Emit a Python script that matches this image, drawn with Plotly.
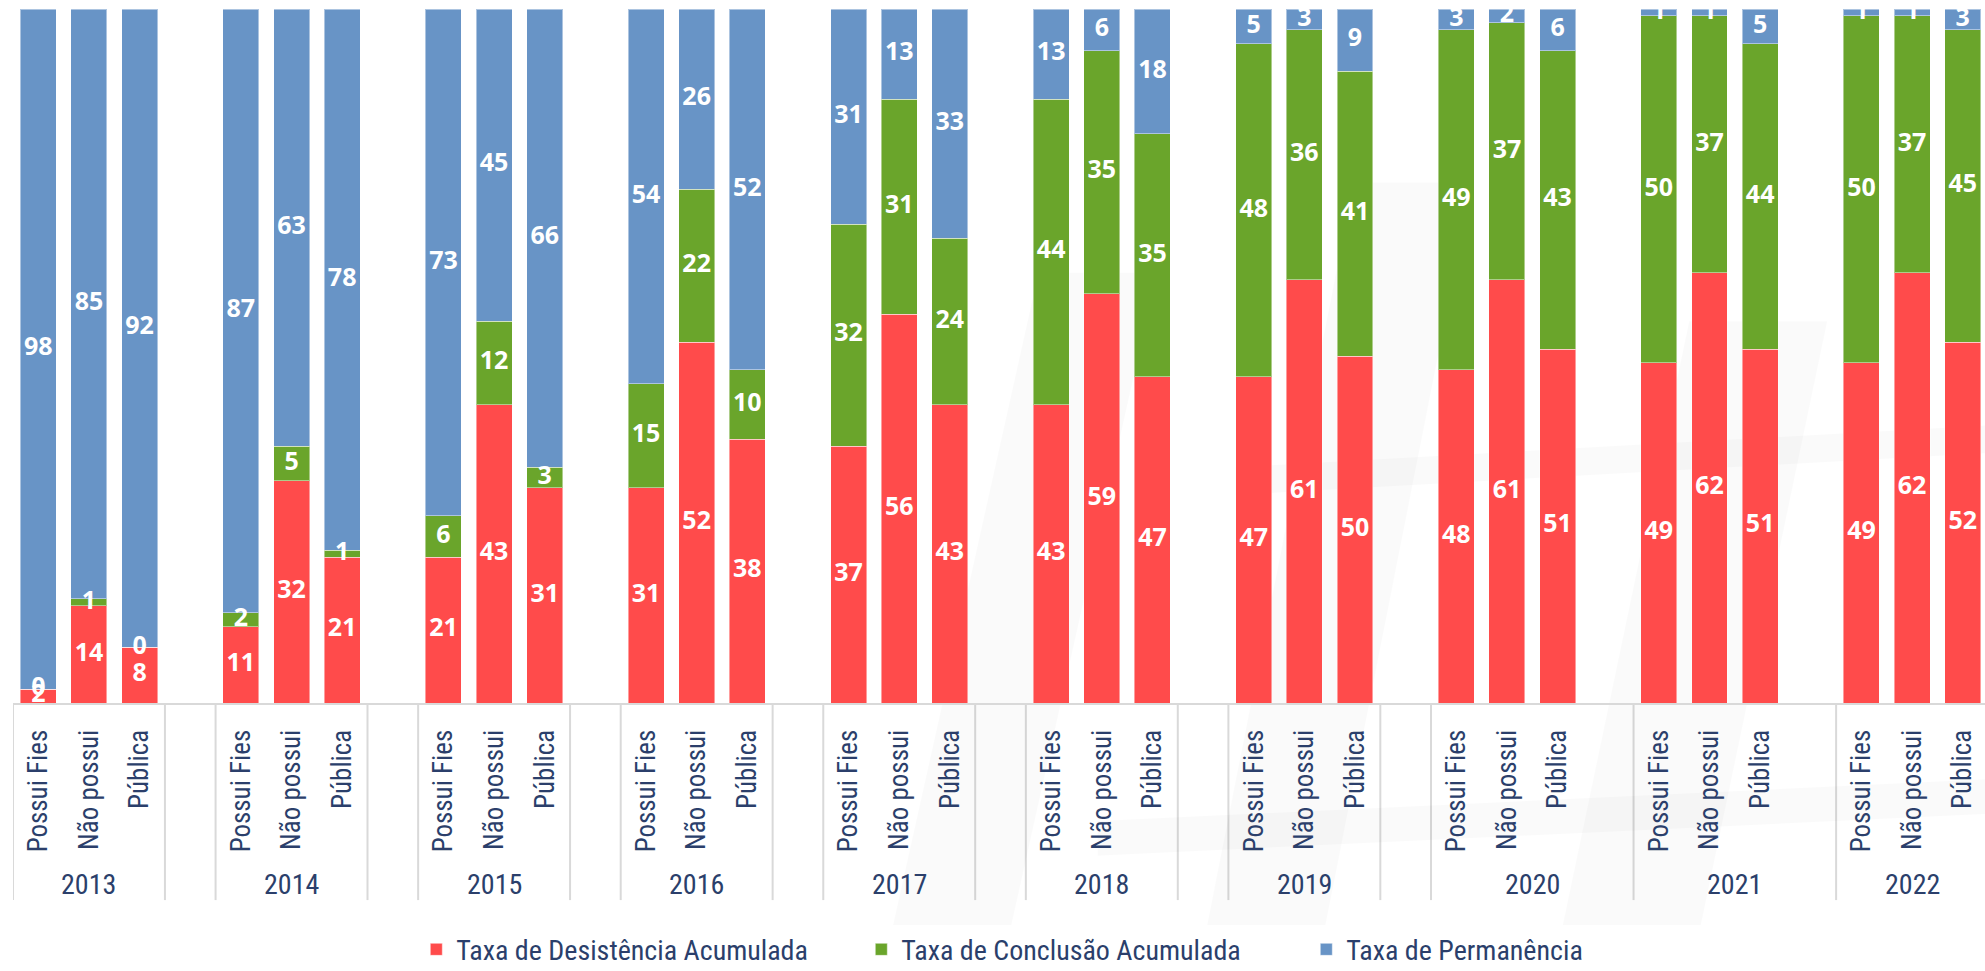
import plotly.graph_objects as go

# Survey years and student groups
years = ["2013", "2014", "2015", "2016", "2017", "2018", "2019", "2020", "2021", "2022"]
categories = ["Possui Fies", "Não possui", "Pública"]

# Rates (%) per year, in the order of `categories`
desistencia = [2, 14, 8, 11, 32, 21, 21, 43, 31, 31, 52, 38, 37, 56, 43,
               43, 59, 47, 47, 61, 50, 48, 61, 51, 49, 62, 51, 49, 62, 52]
conclusao = [0, 1, 0, 2, 5, 1, 6, 12, 3, 15, 22, 10, 32, 31, 24,
             44, 35, 35, 48, 36, 41, 49, 37, 43, 50, 37, 44, 50, 37, 45]
permanencia = [98, 85, 92, 87, 63, 78, 73, 45, 66, 54, 26, 52, 31, 13, 33,
               13, 6, 18, 5, 3, 9, 3, 2, 6, 1, 1, 5, 1, 1, 3]

series = [
    ("Taxa de Desistência Acumulada", desistencia, "#FF4B4B"),
    ("Taxa de Conclusão Acumulada", conclusao, "#6AA52B"),
    ("Taxa de Permanência", permanencia, "#6894C6"),
]

LABEL_FONT = "Liberation Sans Narrow, Arial Narrow, Roboto Condensed, DejaVu Sans Condensed, sans-serif"
TEXT_COLOR = "#2B3F6B"

# Each year takes four slots: three bars followed by an empty slot
n_cat = len(categories)
slot = n_cat + 1
xpos = [slot * yi + ci for yi in range(len(years)) for ci in range(n_cat)]
xlabels = [c for _ in years for c in categories]

fig = go.Figure()
base = [0] * len(xpos)
for name, vals, color in series:
    fig.add_trace(go.Bar(
        x=xpos, y=vals, name=name, width=0.71,
        marker=dict(color=color, line=dict(color="rgba(255,255,255,0.45)", width=1)),
        hoverinfo="skip",
    ))
    mids = [b + v / 2 for b, v in zip(base, vals)]
    fig.add_trace(go.Scatter(
        x=xpos, y=mids, mode="text", text=[str(v) for v in vals],
        textposition="middle center", showlegend=False, hoverinfo="skip",
        textfont=dict(family="Open Sans", size=25, color="white", weight="bold"),
    ))
    base = [b + v for b, v in zip(base, vals)]

# Group separators below the axis and year captions
shapes = []
annotations = []
last = len(years) - 1
edges = [-0.5]
for yi, yr in enumerate(years):
    start = slot * yi - 0.5
    if yi == last:
        end = start + n_cat
    elif yi >= 7:
        # the 2020 and 2021 groups keep their empty slot inside the group
        end = start + slot
    else:
        end = start + n_cat
        edges.append(end + 1)
    edges.append(end)
    annotations.append(dict(
        x=(start + end) / 2, y=-0.262, xref="x", yref="paper", text=yr, showarrow=False,
        xanchor="center", yanchor="middle",
        font=dict(family=LABEL_FONT, size=28, color=TEXT_COLOR),
    ))
for e in sorted(set(edges)):
    if e > slot * last + n_cat - 0.5 - 1e-9:
        continue
    shapes.append(dict(type="line", xref="x", yref="paper", x0=e, x1=e, y0=0, y1=-0.284,
                       line=dict(color="#D9D9D9", width=2), layer="below"))

# Faint background watermark bands
for pts in [
    [(0.44, -0.4), (0.50, -0.4), (0.58, 0.62), (0.52, 0.62)],
    [(0.60, -0.4), (0.66, -0.4), (0.74, 0.75), (0.68, 0.75)],
    [(0.78, -0.4), (0.85, -0.4), (0.92, 0.55), (0.85, 0.55)],
    [(0.62, 0.30), (1.0, 0.36), (1.0, 0.40), (0.62, 0.34)],
    [(0.55, -0.22), (1.0, -0.16), (1.0, -0.11), (0.55, -0.17)],
]:
    path = "M " + " L ".join(f"{x},{y}" for x, y in pts) + " Z"
    shapes.append(dict(type="path", xref="paper", yref="paper", path=path,
                       fillcolor="rgba(0,0,0,0.02)", line=dict(width=0), layer="below"))

fig.update_layout(
    width=1985, height=971,
    margin=dict(l=13, r=0, t=9, b=268),
    barmode="stack",
    plot_bgcolor="rgba(0,0,0,0)", paper_bgcolor="white",
    showlegend=True,
    legend=dict(orientation="h", x=0.543, xanchor="center",
                yref="container", y=0.022, yanchor="middle",
                font=dict(family=LABEL_FONT, size=28, color=TEXT_COLOR),
                traceorder="normal", itemclick=False,
                entrywidth=400, entrywidthmode="pixels"),
    xaxis=dict(range=[-0.5, 38.44], tickmode="array", tickvals=xpos, ticktext=xlabels,
               tickangle=-90, ticks="outside", ticklen=14, tickcolor="rgba(0,0,0,0)",
               showline=True, linecolor="#D9D9D9", linewidth=2,
               showgrid=False, zeroline=False,
               tickfont=dict(family=LABEL_FONT, size=27, color=TEXT_COLOR)),
    yaxis=dict(range=[0, 100], visible=False, showgrid=False, zeroline=False),
    shapes=shapes, annotations=annotations,
)

fig.write_html("out.html")
